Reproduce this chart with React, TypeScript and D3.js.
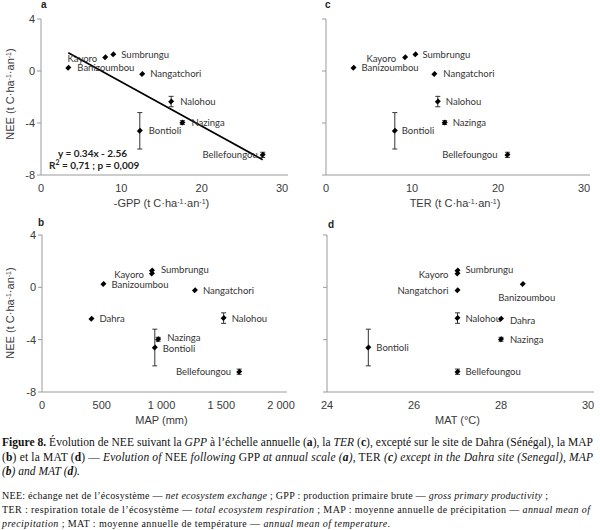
import React from "react"
import { scaleLinear, symbol, symbolSquare } from "d3"

// data
const sites = [
  "Banizoumbou",
  "Kayoro",
  "Sumbrungu",
  "Nangatchori",
  "Nalohou",
  "Nazinga",
  "Bontioli",
  "Bellefoungou",
  "Dahra",
]
const nee = [0.25, 1.05, 1.28, -0.23, -2.35, -3.97, -4.6, -6.45, -2.4]
const neeErr = [0.05, 0.1, 0.1, 0.08, 0.4, 0.15, 1.4, 0.2, 0.05]
const gpp = [3.4, 8.0, 9.0, 12.6, 16.2, 17.6, 12.3, 27.6, null]
const ter = [3.2, 9.2, 10.4, 12.6, 13.0, 13.8, 8.0, 21.1, null]
const map = [514, 920, 920, 1280, 1520, 972, 944, 1650, 414]
const mat = [28.5, 27.0, 27.0, 27.0, 27.0, 28.0, 24.95, 27.0, 28.0]

const neeTicks = [-8, -4, 0, 4]
const fluxTicks = [0, 10, 20, 30]
const mapTicks = [0, 500, 1000, 1500, 2000]
const mapTickLabels = ["0", "500", "1 000", "1 500", "2 000"]
const matTicks = [24, 26, 28, 30]

// regression shown in panel a
const regSlope = -0.34
const regIntercept = 2.56
const regFrom = 3.4
const regTo = 27.6

// label placement per panel: [dx, dy, anchor]
type Place = [number, number, "start" | "end" | "middle"]
const placeA: Record<string, Place> = {
  Kayoro: [-8, 1, "end"],
  Sumbrungu: [8, 0, "start"],
  Banizoumbou: [9, 0, "start"],
  Nangatchori: [8, 0, "start"],
  Nalohou: [9, 0, "start"],
  Nazinga: [9, 0, "start"],
  Bontioli: [9, 0, "start"],
  Bellefoungou: [-5, 0, "end"],
}
const placeC: Record<string, Place> = {
  Kayoro: [-9, 1, "end"],
  Sumbrungu: [7, 0, "start"],
  Banizoumbou: [8, 0, "start"],
  Nangatchori: [9, 0, "start"],
  Nalohou: [8, 0, "start"],
  Nazinga: [8, 0, "start"],
  Bontioli: [7, 0, "start"],
  Bellefoungou: [-10, 0, "end"],
}
const placeB: Record<string, Place> = {
  Kayoro: [-8, 1, "end"],
  Sumbrungu: [9, -1, "start"],
  Banizoumbou: [8, 0, "start"],
  Nangatchori: [8, 0, "start"],
  Nalohou: [8, 0, "start"],
  Nazinga: [9, -1.5, "start"],
  Bontioli: [8, 1, "start"],
  Bellefoungou: [-8, 0, "end"],
  Dahra: [8, 0, "start"],
}
const placeD: Record<string, Place> = {
  Kayoro: [-9, 1, "end"],
  Sumbrungu: [8, -1, "start"],
  Banizoumbou: [4, 13, "middle"],
  Nangatchori: [-9, 0, "end"],
  Nalohou: [8, 0, "start"],
  Nazinga: [9, 0, "start"],
  Bontioli: [8, 0, "start"],
  Bellefoungou: [8, 0, "start"],
  Dahra: [9, 1.5, "start"],
}

const axisColor = "#9a9a9a"
const textColor = "#3a3a3a"
const tickFont = "'Liberation Sans', Arial, sans-serif"
const labelFont = "Lato, 'Open Sans', sans-serif"
const marker = symbol().type(symbolSquare).size(19)()

type PanelProps = {
  letter: string
  xs: (number | null)[]
  xDomain: [number, number]
  xRange: [number, number]
  yRange: [number, number]
  xTicks: number[]
  xTickLabels?: string[]
  xTitle: React.ReactNode
  showYLabels: boolean
  place: Record<string, Place>
  letterPos: [number, number]
  children?: React.ReactNode
}

const Panel = ({
  letter,
  xs,
  xDomain,
  xRange,
  yRange,
  xTicks,
  xTickLabels,
  xTitle,
  showYLabels,
  place,
  letterPos,
  children,
}: PanelProps) => {
  const x = scaleLinear().domain(xDomain).range(xRange)
  const y = scaleLinear().domain([-8, 4]).range(yRange)
  const x0 = xRange[0]
  const yBase = yRange[0]
  const midX = (xRange[0] + xRange[1]) / 2

  return (
    <g>
      <text
        x={letterPos[0]}
        y={letterPos[1]}
        fontFamily={tickFont}
        fontWeight="bold"
        fontSize={10}
        fill="#222"
      >
        {letter}
      </text>
      {/* axes */}
      <line x1={x0} x2={x0} y1={y(4)} y2={yBase} stroke={axisColor} />
      <line x1={x0} x2={xRange[1] + 6} y1={yBase} y2={yBase} stroke={axisColor} />
      {neeTicks.map((t) => (
        <g key={t}>
          <line x1={x0 - 4} x2={x0} y1={y(t)} y2={y(t)} stroke={axisColor} />
          {showYLabels && (
            <text
              x={x0 - 6}
              y={y(t) + 4}
              textAnchor="end"
              fontFamily={tickFont}
              fontSize={11}
              fill={textColor}
            >
              {t}
            </text>
          )}
        </g>
      ))}
      {xTicks.map((t, i) => (
        <text
          key={t}
          x={x(t)}
          y={yBase + 17}
          textAnchor="middle"
          fontFamily={tickFont}
          fontSize={11}
          fill={textColor}
        >
          {xTickLabels ? xTickLabels[i] : t}
        </text>
      ))}
      <text
        x={midX}
        y={yBase + 32}
        textAnchor="middle"
        fontFamily={tickFont}
        fontSize={11}
        fill={textColor}
      >
        {xTitle}
      </text>
      {children}
      {/* points */}
      {sites.map((s, i) => {
        const xv = xs[i]
        if (xv === null) return null
        const px = x(xv)
        const py = y(nee[i])
        const e = neeErr[i]
        const [dx, dy, anchor] = place[s]
        return (
          <g key={s}>
            {e > 0.12 && (
              <g stroke="#333" strokeWidth={1}>
                <line x1={px} x2={px} y1={y(nee[i] + e)} y2={y(nee[i] - e)} />
                <line x1={px - 2.5} x2={px + 2.5} y1={y(nee[i] + e)} y2={y(nee[i] + e)} />
                <line x1={px - 2.5} x2={px + 2.5} y1={y(nee[i] - e)} y2={y(nee[i] - e)} />
              </g>
            )}
            <path
              d={marker ?? ""}
              transform={`translate(${px},${py}) rotate(45) scale(0.9,1.05)`}
              fill="#000"
            />
            <text
              x={px + dx}
              y={py + dy + 3.5}
              textAnchor={anchor}
              fontFamily={labelFont}
              fontSize={9.5}
              fill="#333"
            >
              {s}
            </text>
          </g>
        )
      })}
    </g>
  )
}

const unit = (
  <>
    (t C·ha<tspan baselineShift="super" fontSize={7}>-1</tspan>·an
    <tspan baselineShift="super" fontSize={7}>-1</tspan>)
  </>
)

const YTitle = ({ cy }: { cy: number }) => (
  <text
    transform={`translate(14,${cy}) rotate(-90)`}
    textAnchor="middle"
    fontFamily={tickFont}
    fontSize={11}
    fill={textColor}
  >
    NEE {unit}
  </text>
)

const capFont = "'Liberation Serif', 'Times New Roman', serif"

const App = () => {
  const ga = scaleLinear().domain([0, 30]).range([41, 282])
  const na = scaleLinear().domain([-8, 4]).range([175, 19])

  return (
    <svg width={600} height={530} style={{ position: "absolute", left: 0, top: 0 }}>
      <rect width={600} height={530} fill="#fff" />
      <YTitle cy={94} />
      <YTitle cy={313} />
      <Panel
        letter="a"
        xs={gpp}
        xDomain={[0, 30]}
        xRange={[41, 282]}
        yRange={[175, 19]}
        xTicks={fluxTicks}
        xTitle={<>-GPP {unit}</>}
        showYLabels
        place={placeA}
        letterPos={[41, 8]}
      >
        <line
          x1={ga(regFrom)}
          y1={na(regSlope * regFrom + regIntercept)}
          x2={ga(regTo)}
          y2={na(regSlope * regTo + regIntercept)}
          stroke="#000"
          strokeWidth={1.6}
        />
        <text x={58} y={157} fontFamily={labelFont} fontWeight="bold" fontSize={10} fill="#222">
          y = 0.34x - 2.56
        </text>
        <text x={49} y={169} fontFamily={labelFont} fontWeight="bold" fontSize={10} fill="#222">
          R<tspan baselineShift="super" fontSize={7}>2</tspan> = 0,71 ; p = 0,009
        </text>
      </Panel>
      <Panel
        letter="c"
        xs={ter}
        xDomain={[0, 30]}
        xRange={[326, 584]}
        yRange={[175, 19]}
        xTicks={fluxTicks}
        xTitle={<>TER {unit}</>}
        showYLabels={false}
        place={placeC}
        letterPos={[325, 8]}
      />
      <Panel
        letter="b"
        xs={map}
        xDomain={[0, 2000]}
        xRange={[42, 281]}
        yRange={[392, 235]}
        xTicks={mapTicks}
        xTickLabels={mapTickLabels}
        xTitle="MAP (mm)"
        showYLabels
        place={placeB}
        letterPos={[38, 226]}
      />
      <Panel
        letter="d"
        xs={mat}
        xDomain={[24, 30]}
        xRange={[327, 588]}
        yRange={[392, 235]}
        xTicks={matTicks}
        xTitle="MAT (°C)"
        showYLabels={false}
        place={placeD}
        letterPos={[328, 228]}
      />
      {/* caption */}
      <g fontFamily={capFont} fill="#111">
        <text x={2} y={446} fontSize={11.5} textLength={591} lengthAdjust="spacing">
          <tspan fontWeight="bold">Figure 8.</tspan> Évolution de NEE suivant la{" "}
          <tspan fontStyle="italic">GPP</tspan> à l’échelle annuelle (
          <tspan fontWeight="bold">a</tspan>), la <tspan fontStyle="italic">TER</tspan> (
          <tspan fontWeight="bold">c</tspan>), excepté sur le site de Dahra (Sénégal), la MAP
        </text>
        <text x={2} y={461} fontSize={11.5} textLength={591} lengthAdjust="spacing">
          (<tspan fontWeight="bold">b</tspan>) et la MAT (<tspan fontWeight="bold">d</tspan>) —{" "}
          <tspan fontStyle="italic">Evolution of</tspan> NEE{" "}
          <tspan fontStyle="italic">following</tspan> GPP{" "}
          <tspan fontStyle="italic">
            at annual scale (<tspan fontWeight="bold">a</tspan>),
          </tspan>{" "}
          TER{" "}
          <tspan fontStyle="italic">
            (<tspan fontWeight="bold">c</tspan>) except in the Dahra site (Senegal), MAP
          </tspan>
        </text>
        <text x={2} y={475} fontSize={11.5} fontStyle="italic">
          (<tspan fontWeight="bold">b</tspan>) and MAT (<tspan fontWeight="bold">d</tspan>).
        </text>
        <text x={2} y={499} fontSize={10} textLength={546} lengthAdjust="spacing">
          NEE: échange net de l’écosystème — <tspan fontStyle="italic">net ecosystem exchange</tspan>{" "}
          ; GPP : production primaire brute — <tspan fontStyle="italic">gross primary productivity</tspan> ;
        </text>
        <text x={2} y={513} fontSize={10} textLength={588} lengthAdjust="spacing">
          TER : respiration totale de l’écosystème —{" "}
          <tspan fontStyle="italic">total ecosystem respiration</tspan> ; MAP : moyenne annuelle de
          précipitation — <tspan fontStyle="italic">annual mean of</tspan>
        </text>
        <text x={2} y={527} fontSize={10} textLength={388} lengthAdjust="spacing">
          <tspan fontStyle="italic">precipitation</tspan> ; MAT : moyenne annuelle de température —{" "}
          <tspan fontStyle="italic">annual mean of temperature</tspan>.
        </text>
      </g>
    </svg>
  )
}

export default App
